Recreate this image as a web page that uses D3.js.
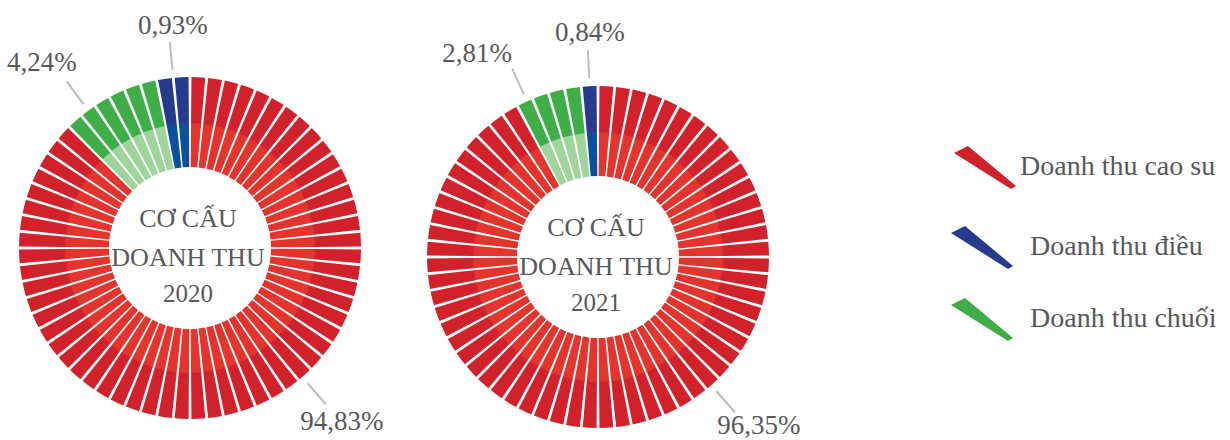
<!DOCTYPE html>
<html>
<head>
<meta charset="utf-8">
<script src="https://cdn.jsdelivr.net/npm/d3@7"></script>
<style>body { margin: 0; background: #fff; }</style>
</head>
<body>
<div id="chart"></div>
<script>
// Revenue structure, two segmented donuts + legend
const width = 1230;
const height = 440;

const years = ['2020', '2021'];
const categories = ['Doanh thu cao su', 'Doanh thu điều', 'Doanh thu chuối'];
const share2020 = [94.83, 0.93, 4.24];
const share2021 = [96.35, 0.84, 2.81];
// how many ring segments each category gets in the picture (cao su, điều, chuối)
const segments2020 = [56, 2, 6];
const segments2021 = [59, 1, 4];

const outerColors = ['#d1222b', '#263b8d', '#3fae49'];
const innerColors = ['#e4342e', '#0a509c', '#9fd49c'];
const textColor = '#595959';
const fontFamily = '"Liberation Serif", "Times New Roman", serif';

// clockwise from 12 o'clock: cao su, chuối, điều
const drawOrder = [0, 2, 1];

const charts = [
    { year: years[0], share: share2020, segs: segments2020, cx: 190, cy: 248,
      leaderAngle: [139, -5.6, -36.5], textOffset: [[16, 26], [3, -8], [-25, -11]] },
    { year: years[1], share: share2021, segs: segments2021, cx: 598, cy: 257,
      leaderAngle: [138.6, -2.8, -24.5], textOffset: [[24, 22], [2, -9], [-35, -7]] }
];

const rInner = 81;
const rMid = 125;
const rOuter = 171;
const gap = 0.017; // angular gap between segments

const pct = d3.formatLocale({ decimal: ',', thousands: '.', grouping: [3], currency: ['', ''] }).format('.2f');

const svg = d3.select('#chart')
    .append('svg')
    .attr('width', width)
    .attr('height', height);

charts.forEach(chart => {
    const total = d3.sum(chart.segs);
    const angle = d3.scaleLinear().domain([0, total]).range([0, 2 * Math.PI]);

    // one entry per ring segment
    const pieces = [];
    let idx = 0;
    drawOrder.forEach(cat => {
        d3.range(chart.segs[cat]).forEach(() => {
            pieces.push({ cat: cat, start: angle(idx) + gap / 2, end: angle(idx + 1) - gap / 2 });
            idx++;
        });
    });

    const innerArc = d3.arc().innerRadius(rInner).outerRadius(rMid);
    const outerArc = d3.arc().innerRadius(rMid - 0.5).outerRadius(rOuter);

    const g = svg.append('g')
        .attr('transform', `translate(${chart.cx}, ${chart.cy})`);

    g.selectAll('path.inner')
        .data(pieces)
        .join('path')
        .attr('class', 'inner')
        .attr('d', d => innerArc.startAngle(d.start).endAngle(d.end)())
        .attr('fill', d => innerColors[d.cat]);

    g.selectAll('path.outer')
        .data(pieces)
        .join('path')
        .attr('class', 'outer')
        .attr('d', d => outerArc.startAngle(d.start).endAngle(d.end)())
        .attr('fill', d => outerColors[d.cat]);

    // centre title
    const title = [['CƠ CẤU', -21, 26], ['DOANH THU', 18, 26], [chart.year, 54, 25]];
    title.forEach(t => {
        g.append('text')
            .attr('x', -2)
            .attr('y', t[1])
            .attr('text-anchor', 'middle')
            .attr('font-family', fontFamily)
            .attr('font-size', t[2] + 'px')
            .attr('fill', textColor)
            .text(t[0]);
    });

    // percentage labels with leader lines
    chart.share.forEach((v, i) => {
        const a = chart.leaderAngle[i] * Math.PI / 180;
        const x1 = 179 * Math.sin(a), y1 = -179 * Math.cos(a);
        const x2 = 207 * Math.sin(a), y2 = -207 * Math.cos(a);
        g.append('line')
            .attr('x1', x1).attr('y1', y1)
            .attr('x2', x2).attr('y2', y2)
            .attr('stroke', '#bdbdbd')
            .attr('stroke-width', 2);
        g.append('text')
            .attr('x', x2 + chart.textOffset[i][0])
            .attr('y', y2 + chart.textOffset[i][1])
            .attr('text-anchor', 'middle')
            .attr('font-family', fontFamily)
            .attr('font-size', '27px')
            .attr('fill', textColor)
            .text(pct(v) + '%');
    });
});

// legend
const legendY = [175, 255, 327];
const legendX = [1020, 1030, 1030];
const marker = [[0, 7], [14, 0], [62, 40], [57, 43]];

categories.forEach((c, i) => {
    const mx = i === 0 ? 954 : 951;
    svg.append('polygon')
        .attr('points', marker.map(p => [p[0] + mx, p[1] + legendY[i] - 29].join(',')).join(' '))
        .attr('fill', outerColors[i]);
    svg.append('text')
        .attr('x', legendX[i])
        .attr('y', legendY[i])
        .attr('font-family', fontFamily)
        .attr('font-size', '28px')
        .attr('fill', textColor)
        .text(c);
});
</script>
</body>
</html>
